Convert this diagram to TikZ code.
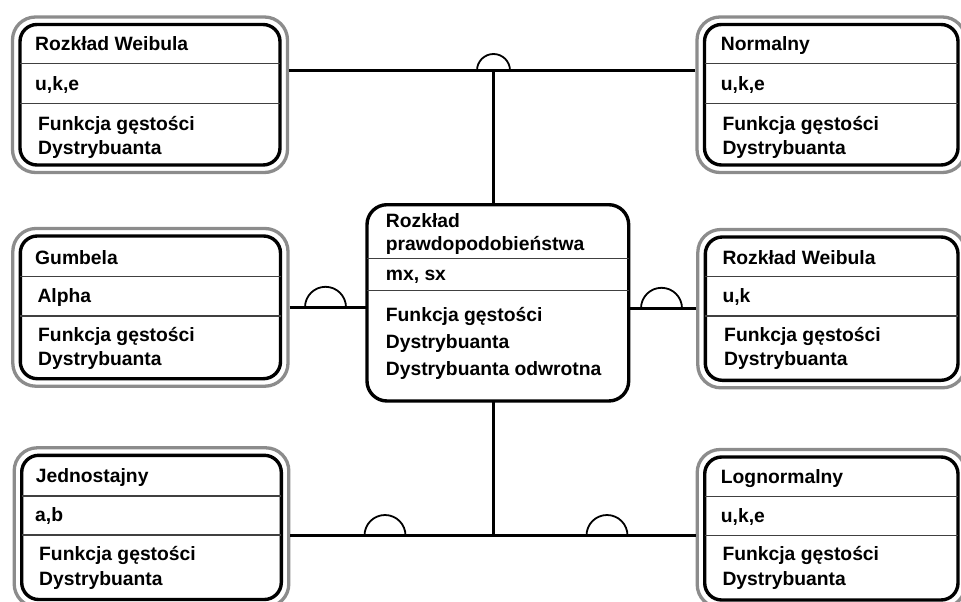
\documentclass[tikz,border=0pt]{standalone}
\usepackage{fontspec}
\setmainfont{Liberation Sans}
\usetikzlibrary{fit,calc}
\definecolor{framegray}{gray}{0.55}
\begin{document}
\begin{tikzpicture}[x=1pt,y=-1pt,
  classbox/.style={draw=black, line width=3.4pt, rounded corners=17pt,
    outer sep=0pt, inner sep=0pt, anchor=north west},
  framebox/.style={draw=framegray, line width=3.3pt, rounded corners=23pt,
    inner sep=7.5pt},
  divider/.style={draw=black!75, line width=1.1pt},
  conn/.style={draw=black, line width=3.2pt},
  hop/.style={draw=black, line width=1.8pt},
  txt/.style={anchor=base west, inner sep=0pt,
    font=\fontsize{19.3}{23}\selectfont\bfseries}]
\useasboundingbox (0,0) rectangle (961,602);

% ---- class boxes ----
\node[classbox, minimum width=260pt, minimum height=140.5pt] (tl) at (20,24.5) {};
\node[classbox, minimum width=253.5pt, minimum height=140.5pt] (tr) at (704.5,24.5) {};
\node[classbox, minimum width=260.2pt, minimum height=142.7pt] (ml) at (20.3,236) {};
\node[classbox, minimum width=252.7pt, minimum height=143.3pt] (mr) at (705.3,237) {};
\node[classbox, minimum width=259.6pt, minimum height=144.2pt] (bl) at (21.7,455.3) {};
\node[classbox, minimum width=253.3pt, minimum height=143pt] (br) at (704.7,457) {};
\node[classbox, rounded corners=20pt, minimum width=261.7pt, minimum height=196.3pt] (c) at (367,204.7) {};

% ---- grey outer frames ----
\node[framebox, fit=(tl)] (tlf) {};
\node[framebox, fit=(tr)] (trf) {};
\node[framebox, fit=(ml)] (mlf) {};
\node[framebox, fit=(mr)] (mrf) {};
\node[framebox, fit=(bl)] (blf) {};
\node[framebox, fit=(br)] (brf) {};

% ---- compartment dividers ----
\foreach \b/\da/\db in {tl/38.8/78.8, tr/38.8/78.8, ml/40.7/80, mr/39.7/79,
                         bl/40.7/79.7, br/39.7/78.7, c/53.6/86} {
  \draw[divider] ($(\b.north west)+(0,\da)$) -- ($(\b.north east)+(0,\da)$);
  \draw[divider] ($(\b.north west)+(0,\db)$) -- ($(\b.north east)+(0,\db)$);
}

% ---- texts ----
\node[txt] (tl1) at (35,50.5) {Rozkład Weibula};
\node[txt] (tl2) at (35,90.7) {u,k,e};
\node[txt] (tl3) at (38,130.7) {Funkcja gęstości};
\node[txt] (tl4) at (38,154) {Dystrybuanta};

\node[txt] (tr1) at (720.7,50.5) {Normalny};
\node[txt] (tr2) at (720.7,90.7) {u,k,e};
\node[txt] (tr3) at (722.3,130.7) {Funkcja gęstości};
\node[txt] (tr4) at (722.3,154) {Dystrybuanta};

\node[txt] (ml1) at (35,264) {Gumbela};
\node[txt] (ml2) at (37.3,302.7) {Alpha};
\node[txt] (ml3) at (38,341.7) {Funkcja gęstości};
\node[txt] (ml4) at (38,365.7) {Dystrybuanta};

\node[txt] (mr1) at (722.3,264) {Rozkład Weibula};
\node[txt] (mr2) at (722.3,302.3) {u,k};
\node[txt] (mr3) at (724,341.7) {Funkcja gęstości};
\node[txt] (mr4) at (724,365.7) {Dystrybuanta};

\node[txt] (bl1) at (35.7,482.3) {Jednostajny};
\node[txt] (bl2) at (35,521) {a,b};
\node[txt] (bl3) at (39,560) {Funkcja gęstości};
\node[txt] (bl4) at (39,585) {Dystrybuanta};

\node[txt] (br1) at (720.7,483.3) {Lognormalny};
\node[txt] (br2) at (720.7,522.3) {u,k,e};
\node[txt] (br3) at (722.3,560.7) {Funkcja gęstości};
\node[txt] (br4) at (722.3,585) {Dystrybuanta};

\node[txt] (c1) at (385.7,227.3) {Rozkład};
\node[txt] (c2) at (385.7,250.7) {prawdopodobieństwa};
\node[txt] (c3) at (385.7,280.7) {mx, sx};
\node[txt] (c4) at (385.7,321.7) {Funkcja gęstości};
\node[txt] (c5) at (385.7,348.3) {Dystrybuanta};
\node[txt] (c6) at (385.7,375) {Dystrybuanta odwrotna};

% ---- connectors ----
\coordinate (jtop) at (493.5,70.5);
\coordinate (jbot) at (493.5,535.5);
\coordinate (hml) at (325.5,307.3);
\coordinate (hmr) at (661.5,308.3);
\coordinate (hbl) at (385,535.5);
\coordinate (hbr) at (607,535.5);

\draw[conn] (tlf.east |- jtop) -- (trf.west |- jtop);
\draw[conn] (jtop) -- (c.north -| jtop);
\draw[conn] (mlf.east |- hml) -- (c.west |- hml);
\draw[conn] (c.east |- hmr) -- (mrf.west |- hmr);
\draw[conn] (c.south -| jbot) -- (jbot);
\draw[conn] (blf.east |- jbot) -- (brf.west |- jbot);

% ---- half-circle sockets ----
\draw[hop] ($(jtop)+(-16.5,0)$) arc[start angle=180, end angle=360, radius=16.5];
\draw[hop] ($(hml)+(-20.5,0)$) arc[start angle=180, end angle=360, radius=20.5];
\draw[hop] ($(hmr)+(-20.5,0)$) arc[start angle=180, end angle=360, radius=20.5];
\draw[hop] ($(hbl)+(-20.5,0)$) arc[start angle=180, end angle=360, radius=20.5];
\draw[hop] ($(hbr)+(-20.5,0)$) arc[start angle=180, end angle=360, radius=20.5];
\end{tikzpicture}
\end{document}
